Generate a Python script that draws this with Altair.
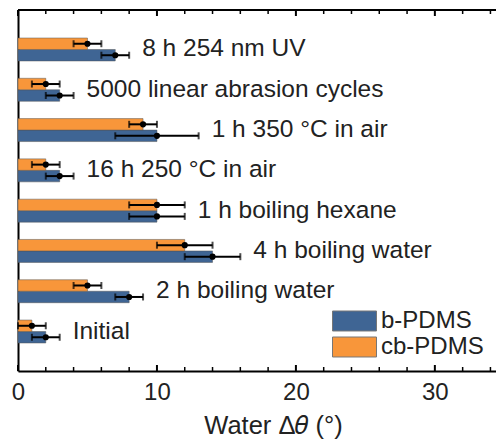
import altair as alt
import pandas as pd

# Treatments, top to bottom
treatments = [
    "8 h 254 nm UV",
    "5000 linear abrasion cycles",
    "1 h 350 °C in air",
    "16 h 250 °C in air",
    "1 h boiling hexane",
    "4 h boiling water",
    "2 h boiling water",
    "Initial",
]
series = ["b-PDMS", "cb-PDMS"]
colors = ["#3F6594", "#F8963A"]

# Change in water contact angle (degrees) and its uncertainty
b_vals = [7, 3, 10, 3, 10, 14, 8, 2]
b_err = [1, 1, 3, 1, 2, 2, 1, 1]
cb_vals = [5, 2, 9, 2, 10, 12, 5, 1]
cb_err = [1, 1, 1, 1, 2, 2, 1, 1]

major_ticks = [0, 10, 20, 30]
minor_ticks = [v for v in range(2, 35, 2) if v % 10]

FONT = "Liberation Sans"
W, H = 478, 361
XMAX = 34.4

rows = []
for name, vals, errs in (("b-PDMS", b_vals, b_err), ("cb-PDMS", cb_vals, cb_err)):
    for t, v, e in zip(treatments, vals, errs):
        rows.append({"treatment": t, "series": name, "value": v,
                     "lo": v - e, "hi": v + e})
df = pd.DataFrame(rows)
labels = df.groupby("treatment", as_index=False)["hi"].max()

xscale = alt.Scale(domain=[0, XMAX], nice=False, zero=False)
yenc = alt.Y("treatment:N", sort=treatments,
             scale=alt.Scale(paddingInner=0.43, paddingOuter=0.695),
             axis=alt.Axis(title=None, labels=False, ticks=False, domain=True,
                           domainColor="black", domainWidth=2))
yoff = alt.YOffset("series:N", sort=["cb-PDMS", "b-PDMS"],
                   scale=alt.Scale(paddingInner=0, paddingOuter=0))

base = alt.Chart(df)

bars = base.mark_bar(stroke="#555", strokeWidth=0.5, opacity=1).encode(
    x=alt.X("value:Q", scale=xscale,
            axis=alt.Axis(values=major_ticks, ticks=False, tickSize=0,
                          labelFlush=False,
                          labelFontSize=24, labelPadding=9, labelColor="#222",
                          labelFont=FONT, domainColor="black", domainWidth=2,
                          grid=False, title="Water Δ𝜃 (°)", titleFontSize=25.5,
                          titleFont=FONT, titleFontWeight="normal",
                          titleColor="#222", titleX=255, titleY=62,
                          titleAlign="center", titleBaseline="alphabetic")),
    y=yenc,
    yOffset=yoff,
    color=alt.Color("series:N", scale=alt.Scale(domain=series, range=colors),
                    legend=alt.Legend(
                        orient="none", legendX=314, legendY=298, title=None,
                        symbolType="M-1,-0.4545L1,-0.4545L1,0.4545L-1,0.4545Z",
                        symbolSize=1936, symbolStrokeColor="#777",
                        symbolStrokeWidth=1, symbolOpacity=1,
                        clipHeight=26, rowPadding=0, padding=0,
                        labelFontSize=24, labelFont=FONT, labelColor="#222",
                        labelOffset=4)),
)

err_lines = base.mark_rule(color="black", strokeWidth=2).encode(
    x=alt.X("lo:Q", scale=xscale), x2="hi:Q", y=yenc, yOffset=yoff)
caps_lo = base.mark_tick(color="black", thickness=2, size=7).encode(
    x=alt.X("lo:Q", scale=xscale), y=yenc, yOffset=yoff)
caps_hi = base.mark_tick(color="black", thickness=2, size=7).encode(
    x=alt.X("hi:Q", scale=xscale), y=yenc, yOffset=yoff)
dots = base.mark_circle(color="black", size=38, opacity=1).encode(
    x=alt.X("value:Q", scale=xscale), y=yenc, yOffset=yoff)

text = alt.Chart(labels).mark_text(
    align="left", baseline="middle", dx=13, fontSize=24.5, font=FONT,
    color="#222").encode(
    x=alt.X("hi:Q", scale=xscale), y=yenc, text="treatment:N")

# Frame top edge and inward tick marks on top and bottom edges
top_line = alt.Chart(pd.DataFrame({"v": [0]})).mark_rule(
    color="black", strokeWidth=2).encode(
    x=alt.value(0), x2=alt.value(W), y=alt.value(0))

maj = alt.Chart(pd.DataFrame({"t": major_ticks}))
mnr = alt.Chart(pd.DataFrame({"t": minor_ticks}))
tick_layers = []
for src, ln, sw in ((maj, 6, 2), (mnr, 4, 1.5)):
    tick_layers.append(src.mark_rule(color="black", strokeWidth=sw).encode(
        x=alt.X("t:Q", scale=xscale), y=alt.value(0), y2=alt.value(ln)))
    tick_layers.append(src.mark_rule(color="black", strokeWidth=sw).encode(
        x=alt.X("t:Q", scale=xscale), y=alt.value(H), y2=alt.value(H - ln)))

chart = alt.layer(
    bars, err_lines, caps_lo, caps_hi, dots, text, top_line, *tick_layers
).properties(
    width=W, height=H,
    padding={"left": 18, "top": 10, "right": 0, "bottom": 68},
    autosize=alt.AutoSizeParams(type="none"),
    background="white",
).configure_view(stroke=None).configure(font=FONT)

chart.save("out.html", embed_options={"renderer": "svg", "actions": False})
